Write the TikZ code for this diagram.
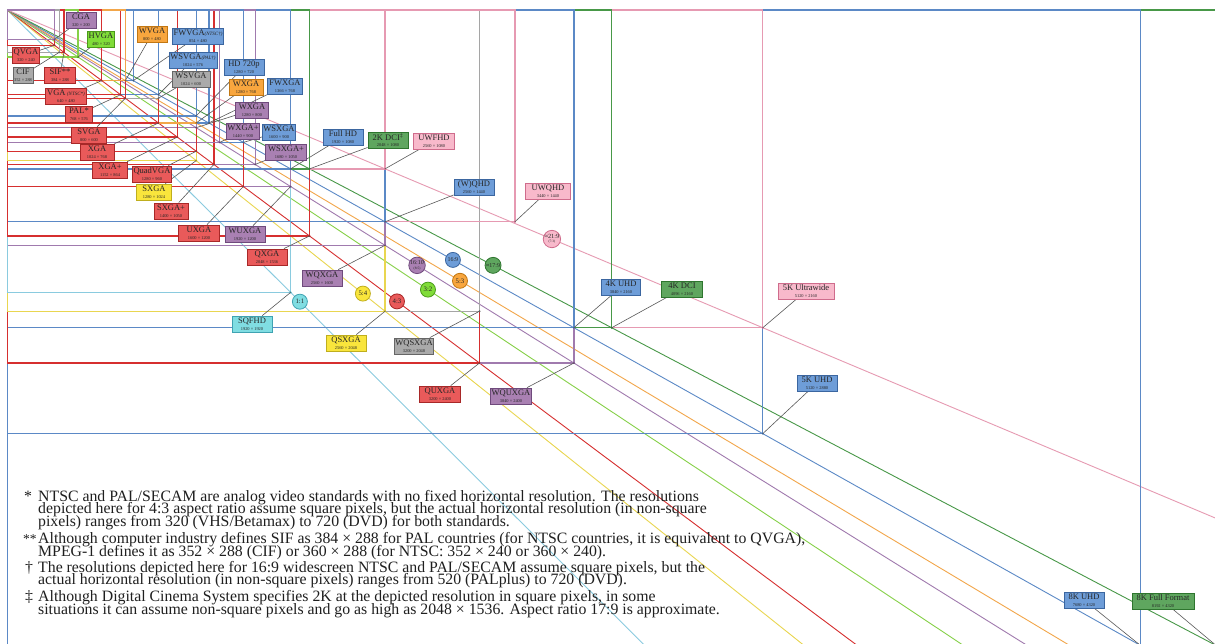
\documentclass[tikz,border=0pt]{standalone}
\usepackage{fontspec}
\setmainfont{Liberation Serif}
\definecolor{RF}{HTML}{E95A5A}\definecolor{RB}{HTML}{A82828}\definecolor{RL}{HTML}{D62F2F}
\definecolor{PF}{HTML}{A980B2}\definecolor{PB}{HTML}{6F4A7C}\definecolor{PL}{HTML}{A07AAE}
\definecolor{BF}{HTML}{6E9DD8}\definecolor{BB}{HTML}{3B66A0}\definecolor{BL}{HTML}{5B89C6}
\definecolor{GF}{HTML}{AAAAAA}\definecolor{GB}{HTML}{666666}\definecolor{GL}{HTML}{A5A5A5}
\definecolor{LF}{HTML}{80DC38}\definecolor{LB}{HTML}{4A9A1A}\definecolor{LL}{HTML}{86D048}
\definecolor{OF}{HTML}{F8A63E}\definecolor{OB}{HTML}{C27712}\definecolor{OL}{HTML}{F2A64A}
\definecolor{DF}{HTML}{5FA65F}\definecolor{DB}{HTML}{2E752E}\definecolor{DL}{HTML}{489848}
\definecolor{KF}{HTML}{F8B9CB}\definecolor{KB}{HTML}{CF6C8C}\definecolor{KL}{HTML}{E69AB2}
\definecolor{YF}{HTML}{F9E53C}\definecolor{YB}{HTML}{BFAE1E}\definecolor{YL}{HTML}{E9D650}
\definecolor{CF}{HTML}{80DDE2}\definecolor{CB}{HTML}{3FA3B2}\definecolor{CL}{HTML}{8ACBDF}
\pgfdeclarelayer{back}\pgfdeclarelayer{mid}\pgfsetlayers{back,mid,main}
\newcommand\fnfont{\fontsize{15.8}{12.5}\selectfont\setlength\lineskiplimit{-100pt}\setlength\lineskip{0pt}}
\tikzset{
 rect/.style={line width=1.3pt},
 diag/.style={line width=0.9pt},
 conn/.style={draw=black!65, line width=0.6pt},
 lab/.style={draw=#1B, fill=#1F, line width=0.8pt, inner xsep=1pt, inner ysep=0pt,
   minimum height=16pt, align=center, text=black!85, font=\fontsize{8.5}{6.6}\selectfont},
 rat/.style={circle, draw=#1B, fill=#1F, line width=0.8pt, inner sep=0pt, minimum size=15pt,
   align=center, text=black!85, font=\fontsize{6.8}{5}\selectfont},
 fn/.style={inner sep=0pt, align=left, text=black!88, font=\fnfont},
}
\newcommand\rs[1]{{\fontsize{4.4}{4.4}\selectfont #1}}
\newcommand\sm[1]{{\fontsize{5}{5}\selectfont\itshape #1}}
\newcommand\rz[4]{\draw[rect,#4L] (O) rectangle (#2,#3); \coordinate (c#1) at (#2,#3);
  \fill[#4B] (c#1) circle (1.1pt);}
\newcommand\lb[7]{\node[lab=#2, minimum width=#5pt] (n#1) at (#3,#4) {#6\\\rs{#7}};
  \begin{pgfonlayer}{mid}\draw[conn] (n#1) -- (c#1);\end{pgfonlayer}}
\begin{document}
\begin{tikzpicture}[x=1pt,y=-1pt]
\useasboundingbox (0,0) rectangle (1215,644);
\clip (0,0) rectangle (1215,644);
\begin{pgfonlayer}{back}
\fill[white] (0,0) rectangle (1215,644);
\end{pgfonlayer}
\begin{scope}[shift={(7.3,10)}, x=0.14756pt, y=-0.1471pt]
\coordinate (O) at (0,0);
\begin{pgfonlayer}{back}
% aspect ratio diagonals
\coordinate (e11) at (4400,4400);
\coordinate (e54) at (5500,4400);
\coordinate (e43) at (6000,4500);
\coordinate (e32) at (6600,4400);
\coordinate (e1610) at (8000,5000);
\coordinate (e53) at (8000,4800);
\coordinate (e169) at (8320,4680);
\coordinate (e179) at (8700,4588);
\coordinate (e219) at (8600,3628);
\draw[diag,CL] (O) -- (e11);
\draw[diag,YL] (O) -- (e54);
\draw[diag,RL] (O) -- (e43);
\draw[diag,LL] (O) -- (e32);
\draw[diag,PL] (O) -- (e1610);
\draw[diag,OL] (O) -- (e53);
\draw[diag,BL] (O) -- (e169);
\draw[diag,DL] (O) -- (e179);
\draw[diag,KL] (O) -- (e219);
% resolution rectangles
\rz{eightkff}{8192}{4320}{D}
\rz{eightk}{7680}{4320}{B}
\rz{fivek}{5120}{2880}{B}
\rz{fivekuw}{5120}{2160}{K}
\rz{wquxga}{3840}{2400}{P}
\rz{fourkdci}{4096}{2160}{D}
\rz{fourk}{3840}{2160}{B}
\rz{quxga}{3200}{2400}{R}
\rz{wqsxga}{3200}{2048}{G}
\rz{qsxga}{2560}{2048}{Y}
\rz{uwqhd}{3440}{1440}{K}
\rz{wqxga}{2560}{1600}{P}
\rz{sqfhd}{1920}{1920}{C}
\rz{wqhd}{2560}{1440}{B}
\rz{qxga}{2048}{1536}{R}
\rz{uwfhd}{2560}{1080}{K}
\rz{wuxga}{1920}{1200}{P}
\rz{dcitwo}{2048}{1080}{D}
\rz{fhd}{1920}{1080}{B}
\rz{uxga}{1600}{1200}{R}
\rz{wsxgaplus}{1680}{1050}{P}
\rz{sxgaplus}{1400}{1050}{R}
\rz{wsxga}{1600}{900}{B}
\rz{sxga}{1280}{1024}{Y}
\rz{wxgaplus}{1440}{900}{P}
\rz{quadvga}{1280}{960}{R}
\rz{fwxga}{1366}{768}{B}
\rz{wxgap}{1280}{800}{P}
\rz{xgaplus}{1152}{864}{R}
\rz{wxgao}{1280}{768}{O}
\rz{hd}{1280}{720}{B}
\rz{xga}{1024}{768}{R}
\rz{wsvga}{1024}{600}{G}
\rz{wsvgap}{1024}{576}{B}
\rz{svga}{800}{600}{R}
\rz{pal}{768}{576}{R}
\rz{fwvga}{854}{480}{B}
\rz{wvga}{800}{480}{O}
\rz{vga}{640}{480}{R}
\rz{hvga}{480}{320}{L}
\rz{sif}{384}{288}{R}
\rz{cif}{352}{288}{G}
\rz{qvga}{320}{240}{R}
\rz{cga}{320}{200}{P}
\end{pgfonlayer}
% ratio circles
\node[rat=C] (r11) at (1983,1983) {1:1};
\node[rat=Y] (r54) at (2410,1928) {5:4};
\node[rat=R] (r43) at (2641,1981) {4:3};
\node[rat=L] (r32) at (2851,1901) {3:2};
\node[rat=P, minimum size=16pt] (r1610) at (2777,1736) {{\fontsize{6}{5}\selectfont 16:10}\\[-0.5pt]{\fontsize{3.5}{3.5}\selectfont(8:5)}};
\node[rat=O] (r53) at (3068,1841) {5:3};
\node[rat=B] (r169) at (3020,1699) {{\fontsize{6}{5}\selectfont 16:9}};
\node[rat=D, minimum size=16pt] (r179) at (3292,1736) {{\fontsize{6}{5}\selectfont ≈17:9}};
\node[rat=K, minimum size=17pt] (r219) at (3691,1557) {{\fontsize{6.3}{5}\selectfont ≈21:9}\\[-0.5pt]{\fontsize{3.5}{3.5}\selectfont(7:3)}};
\end{scope}
% labels
\lb{cga}{P}{81}{20}{30}{CGA}{320 × 200}
\lb{hvga}{L}{101}{39}{27}{HVGA}{480 × 320}
\lb{wvga}{O}{152}{34}{30}{WVGA}{800 × 480}
\lb{qvga}{R}{26}{55}{27}{QVGA}{320 × 240}
\lb{cif}{G}{23}{75}{18}{CIF}{352 × 288}
\lb{sif}{R}{60}{75}{31}{SIF**}{384 × 288}
\lb{vga}{R}{66}{96}{41}{VGA\,\sm{(NTSC*)}}{640 × 480}
\lb{pal}{R}{79}{114}{27}{PAL*}{768 × 576}
\lb{fwvga}{B}{198}{36}{50}{FWVGA\sm{(NTSC†)}}{854 × 480}
\lb{wsvgap}{B}{193}{60}{48}{WSVGA\sm{(PAL†)}}{1024 × 576}
\lb{wsvga}{G}{191}{79}{38}{WSVGA}{1024 × 600}
\lb{hd}{B}{244}{67}{40}{HD 720p}{1280 × 720}
\lb{wxgao}{O}{246}{87}{34}{WXGA}{1280 × 768}
\lb{fwxga}{B}{285}{86}{35}{FWXGA}{1366 × 768}
\lb{wxgap}{P}{252}{110}{33}{WXGA}{1280 × 800}
\lb{wxgaplus}{P}{243}{131}{33}{WXGA+}{1440 × 900}
\lb{wsxga}{B}{279}{132}{33}{WSXGA}{1600 × 900}
\lb{wsxgaplus}{P}{286}{152}{41}{WSXGA+}{1680 × 1050}
\lb{svga}{R}{89}{135}{35}{SVGA}{800 × 600}
\lb{xga}{R}{97}{152}{34}{XGA}{1024 × 768}
\lb{xgaplus}{R}{110}{170}{35}{XGA+}{1152 × 864}
\lb{quadvga}{R}{152}{174}{39}{QuadVGA}{1280 × 960}
\lb{sxga}{Y}{154}{192}{35}{SXGA}{1280 × 1024}
\lb{sxgaplus}{R}{171}{211}{34}{SXGA+}{1400 × 1050}
\lb{uxga}{R}{199}{233}{41}{UXGA}{1600 × 1200}
\lb{wuxga}{P}{245}{234}{40}{WUXGA}{1920 × 1200}
\lb{fhd}{B}{343}{137}{40}{Full HD}{1920 × 1080}
\lb{dcitwo}{D}{388}{140}{40}{2K DCI\textsuperscript{‡}}{2048 × 1080}
\lb{uwfhd}{K}{434}{141}{41}{UWFHD}{2560 × 1080}
\lb{qxga}{R}{267}{257}{40}{QXGA}{2048 × 1536}
\lb{wqxga}{P}{322}{278}{40}{WQXGA}{2560 × 1600}
\lb{sqfhd}{C}{252}{324}{40}{SQFHD}{1920 × 1920}
\lb{qsxga}{Y}{346}{343}{40}{QSXGA}{2560 × 2048}
\lb{wqsxga}{G}{414}{346}{39}{WQSXGA}{3200 × 2048}
\lb{quxga}{R}{440}{394}{41}{QUXGA}{3200 × 2400}
\lb{wquxga}{P}{511}{396}{40}{WQUXGA}{3840 × 2400}
\lb{wqhd}{B}{474}{187}{40}{(W)QHD}{2560 × 1440}
\lb{uwqhd}{K}{548}{191}{45}{UWQHD}{3440 × 1440}
\lb{fourk}{B}{621}{287}{39}{4K UHD}{3840 × 2160}
\lb{fourkdci}{D}{682}{289}{41}{4K DCI}{4096 × 2160}
\lb{fivekuw}{K}{806}{291}{56}{5K Ultrawide}{5120 × 2160}
\lb{fivek}{B}{817}{383}{40}{5K UHD}{5120 × 2880}
\lb{eightk}{B}{1084}{600}{40}{8K UHD}{7680 × 4320}
\lb{eightkff}{D}{1163}{601}{62}{8K Full Format}{8192 × 4320}
% footnotes
\node[fn, anchor=base west] (m1) at (24,501) {*};
\node[fn, anchor=base west] (f1) at (38,526) {NTSC and PAL/SECAM are analog video standards with no fixed horizontal resolution. The resolutions\\depicted here for 4:3 aspect ratio assume square pixels, but the actual horizontal resolution (in non-square\\pixels) ranges from 320 (VHS/Betamax) to 720 (DVD) for both standards.};
\node[fn, anchor=base west, font=\fnfont\fontsize{13.5}{12}\selectfont] (m2) at (23,543.5) {**};
\node[fn, anchor=base west] (f2) at (38,556) {Although computer industry defines SIF as 384 × 288 for PAL countries (for NTSC countries, it is equivalent to QVGA),\\MPEG-1 defines it as 352 × 288 (CIF) or 360 × 288 (for NTSC: 352 × 240 or 360 × 240).};
\node[fn, anchor=base west] (m3) at (25,572) {†};
\node[fn, anchor=base west] (f3) at (38,584.5) {The resolutions depicted here for 16:9 widescreen NTSC and PAL/SECAM assume square pixels, but the\\actual horizontal resolution (in non-square pixels) ranges from 520 (PALplus) to 720 (DVD).};
\node[fn, anchor=base west] (m4) at (25,601.5) {‡};
\node[fn, anchor=base west] (f4) at (38,614) {Although Digital Cinema System specifies 2K at the depicted resolution in square pixels, in some\\situations it can assume non-square pixels and go as high as 2048 × 1536. Aspect ratio 17:9 is approximate.};
\end{tikzpicture}
\end{document}
